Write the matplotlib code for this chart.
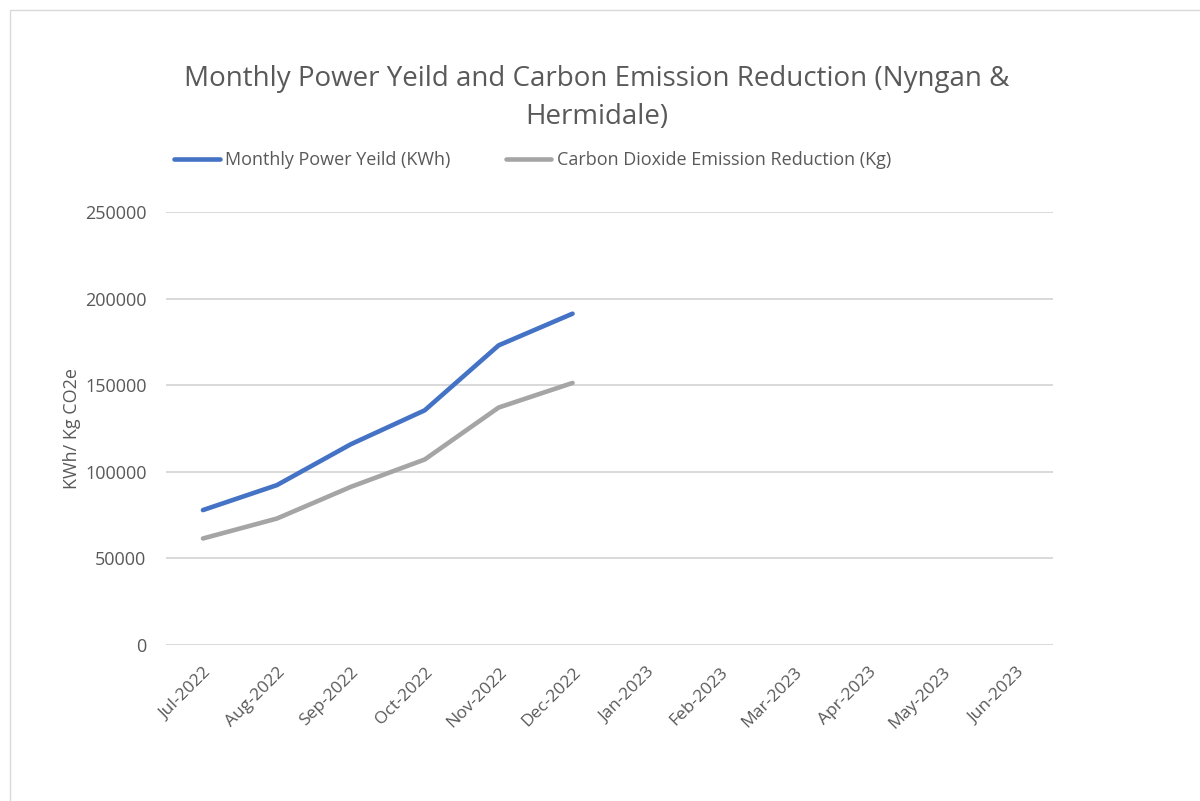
import matplotlib.pyplot as plt
from matplotlib.patches import Rectangle

months = ["Jul-2022", "Aug-2022", "Sep-2022", "Oct-2022", "Nov-2022", "Dec-2022",
          "Jan-2023", "Feb-2023", "Mar-2023", "Apr-2023", "May-2023", "Jun-2023"]
power_yield = [77900, 92300, 115900, 135500, 173000, 191300]
co2_reduction = [61500, 73000, 91300, 107100, 137100, 151300]
y_ticks = [0, 50000, 100000, 150000, 200000, 250000]

plt.rcParams['font.family'] = ['Open Sans', 'DejaVu Sans']
text_col = "#595959"

fig = plt.figure(figsize=(12, 8.01), dpi=100)
# chart border like the Excel chart area
fig.patches.append(Rectangle((10 / 1200, -0.1), 1.2, 1 - 10 / 801 + 0.1, transform=fig.transFigure,
                             fill=False, edgecolor="#d9d9d9", linewidth=1))

ax = fig.add_axes([166 / 1200, 1 - 645 / 801, (1053 - 166) / 1200, (645 - 212) / 801])
x = range(len(months))
ax.plot(x[:len(power_yield)], power_yield, color="#4472C4", linewidth=3.3,
        solid_capstyle="round", label="Monthly Power Yeild (KWh)")
ax.plot(x[:len(co2_reduction)], co2_reduction, color="#A5A5A5", linewidth=3.3,
        solid_capstyle="round", label="Carbon Dioxide Emission Reduction (Kg)")

ax.set_xlim(-0.5, len(months) - 0.5)
ax.set_ylim(0, 250000)
ax.set_yticks(y_ticks)
ax.set_yticklabels([str(v) for v in y_ticks], color=text_col, fontsize=13)
ax.set_xticks(list(x))
ax.set_xticklabels(months, rotation=45, ha="right", rotation_mode="anchor",
                   color=text_col, fontsize=12.5)
ax.tick_params(axis="y", length=0, pad=14)
ax.tick_params(axis="x", length=0, pad=14)
ax.grid(axis="y", color="#d9d9d9", linewidth=1.4)
ax.set_axisbelow(True)
for s in ax.spines.values():
    s.set_visible(False)

ax.set_ylabel("KWh/ Kg CO2e", color=text_col, fontsize=13, labelpad=3)

fig.text(0.497, 1 - 98 / 801, "Monthly Power Yeild and Carbon Emission Reduction (Nyngan &\nHermidale)",
         ha="center", va="center", fontsize=20, color=text_col, linespacing=1.5)

fig.legend(loc="center", bbox_to_anchor=(0.444, 1 - 160 / 801), ncol=2, frameon=False,
           fontsize=13, handlelength=2.5, handletextpad=0.3, columnspacing=3.1,
           labelcolor=text_col)

fig.savefig("out.png", dpi=100)
